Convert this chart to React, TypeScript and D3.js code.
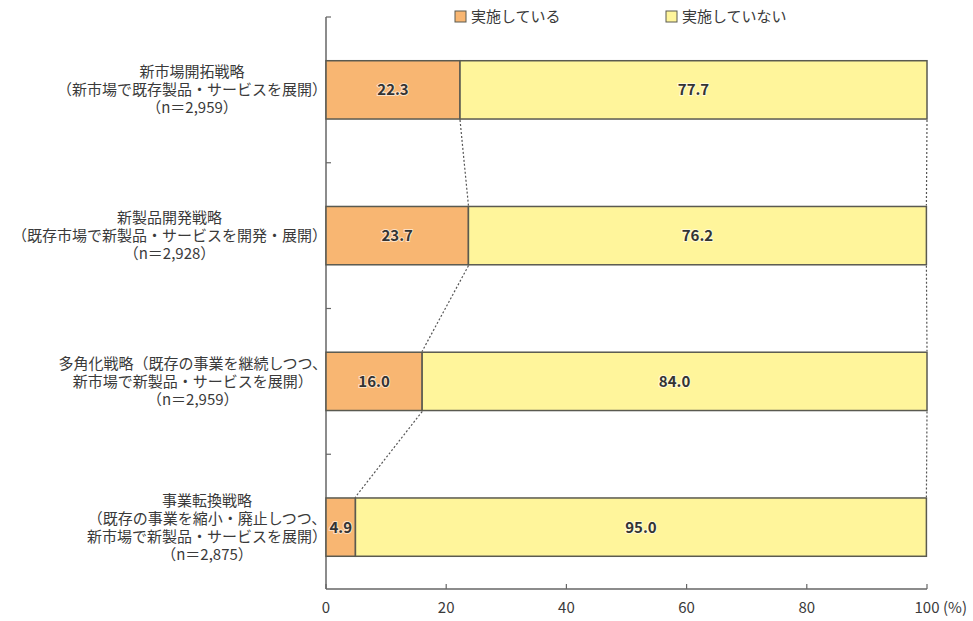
import React, { useEffect, useRef } from "react";
import * as d3 from "d3";

const categories = ["新市場開拓戦略", "新製品開発戦略", "多角化戦略", "事業転換戦略"];
const categoryLines = [
  ["新市場開拓戦略", "（新市場で既存製品・サービスを展開）", "（n＝2,959）"],
  ["新製品開発戦略", "（既存市場で新製品・サービスを開発・展開）", "（n＝2,928）"],
  ["多角化戦略（既存の事業を継続しつつ、", "新市場で新製品・サービスを展開）", "（n＝2,959）"],
  ["事業転換戦略", "（既存の事業を縮小・廃止しつつ、", "新市場で新製品・サービスを展開）", "（n＝2,875）"],
];
const implemented = [22.3, 23.7, 16.0, 4.9];
const notImplemented = [77.7, 76.2, 84.0, 95.0];
const seriesNames = ["実施している", "実施していない"];
const seriesColors = ["#F8B672", "#FFF59B"];
const xTicks = [0, 20, 40, 60, 80, 100];

const W = 973;
const H = 621;
const FONT = "'Noto Sans CJK JP', 'Noto Sans', sans-serif";

export default function App() {
  const ref = useRef<SVGSVGElement>(null);

  useEffect(() => {
    const svg = d3.select(ref.current);
    svg.selectAll("*").remove();

    const x = d3.scaleLinear().domain([0, 100]).range([326, 927]);
    const y = d3
      .scaleBand<string>()
      .domain(categories)
      .range([17, 600])
      .paddingInner(0.6)
      .paddingOuter(0.3);
    const axisBottomY = 589;
    const textColor = "#3a3a3a";

    // left axis line
    svg
      .append("line")
      .attr("x1", x(0))
      .attr("x2", x(0))
      .attr("y1", 17)
      .attr("y2", axisBottomY)
      .attr("stroke", "#666")
      .attr("stroke-width", 1.5);
    // top tick
    svg
      .append("line")
      .attr("x1", x(0))
      .attr("x2", x(0) + 5)
      .attr("y1", 17)
      .attr("y2", 17)
      .attr("stroke", "#666")
      .attr("stroke-width", 1.2);
    // band boundary ticks
    const step = y.step();
    categories.slice(0, -1).forEach((c) => {
      const yb = (y(c) as number) + y.bandwidth() + (step - y.bandwidth()) / 2;
      svg
        .append("line")
        .attr("x1", x(0))
        .attr("x2", x(0) + 5)
        .attr("y1", yb)
        .attr("y2", yb)
        .attr("stroke", "#666")
        .attr("stroke-width", 1.2);
    });

    // bottom axis
    svg
      .append("line")
      .attr("x1", x(0))
      .attr("x2", x(100))
      .attr("y1", axisBottomY)
      .attr("y2", axisBottomY)
      .attr("stroke", "#666")
      .attr("stroke-width", 1.5);
    xTicks.forEach((t) => {
      svg
        .append("line")
        .attr("x1", x(t))
        .attr("x2", x(t))
        .attr("y1", axisBottomY)
        .attr("y2", axisBottomY - 5)
        .attr("stroke", "#666")
        .attr("stroke-width", 1.2);
      svg
        .append("text")
        .attr("x", x(t))
        .attr("y", axisBottomY + 24)
        .attr("text-anchor", "middle")
        .attr("font-family", FONT)
        .attr("font-size", 15)
        .attr("fill", textColor)
        .text(String(t));
    });
    svg
      .append("text")
      .attr("x", x(100) + 16)
      .attr("y", axisBottomY + 24)
      .attr("font-family", FONT)
      .attr("font-size", 15)
      .attr("fill", textColor)
      .text("(%)");

    // connectors
    const bh = y.bandwidth();
    for (let i = 0; i < categories.length - 1; i++) {
      const y0 = (y(categories[i]) as number) + bh;
      const y1 = y(categories[i + 1]) as number;
      [
        [implemented[i], implemented[i + 1]],
        [implemented[i] + notImplemented[i], implemented[i + 1] + notImplemented[i + 1]],
      ].forEach(([a, b]) => {
        svg
          .append("line")
          .attr("x1", x(a))
          .attr("x2", x(b))
          .attr("y1", y0 + 1)
          .attr("y2", y1 - 1)
          .attr("stroke", "#555")
          .attr("stroke-width", 1.2)
          .attr("stroke-dasharray", "2,2");
      });
    }

    // bars
    categories.forEach((c, i) => {
      const yy = y(c) as number;
      const segs = [
        [0, implemented[i]],
        [implemented[i], implemented[i] + notImplemented[i]],
      ];
      segs.forEach(([a, b], s) => {
        svg
          .append("rect")
          .attr("x", x(a))
          .attr("y", yy)
          .attr("width", x(b) - x(a))
          .attr("height", bh)
          .attr("fill", seriesColors[s])
          .attr("stroke", "#5a5a50")
          .attr("stroke-width", 1.5);
        const v = s === 0 ? implemented[i] : notImplemented[i];
        svg
          .append("text")
          .attr("x", (x(a) + x(b)) / 2)
          .attr("y", yy + bh / 2)
          .attr("dy", "0.36em")
          .attr("text-anchor", "middle")
          .attr("font-family", FONT)
          .attr("font-size", 15)
          .attr("font-weight", "bold")
          .attr("fill", "#333")
          .attr("stroke", "#fff")
          .attr("stroke-width", 2)
          .attr("stroke-opacity", 0.6)
          .attr("paint-order", "stroke")
          .text(v.toFixed(1));
      });
    });

    // category labels
    const lineH = 18;
    categories.forEach((c, i) => {
      const lines = categoryLines[i];
      const cy = (y(c) as number) + bh / 2;
      const g = svg.append("g");
      lines.forEach((ln, k) => {
        g.append("text")
          .attr("x", 0)
          .attr("y", cy + (k - (lines.length - 1) / 2) * lineH)
          .attr("dy", "0.36em")
          .attr("text-anchor", "middle")
          .attr("font-family", FONT)
          .attr("font-size", 15)
          .attr("fill", textColor)
          .text(ln);
      });
      const bb = (g.node() as SVGGElement).getBBox();
      const right = 327;
      g.attr("transform", `translate(${right - (bb.x + bb.width)},0)`);
    });

    // legend
    const legendX = [455, 666];
    seriesNames.forEach((n, i) => {
      svg
        .append("rect")
        .attr("x", legendX[i])
        .attr("y", 11)
        .attr("width", 11)
        .attr("height", 11)
        .attr("fill", seriesColors[i])
        .attr("stroke", "#5a5a50")
        .attr("stroke-width", 1);
      svg
        .append("text")
        .attr("x", legendX[i] + 16)
        .attr("y", 17)
        .attr("dy", "0.36em")
        .attr("font-family", FONT)
        .attr("font-size", 15)
        .attr("fill", textColor)
        .text(n);
    });
  }, []);

  return (
    <svg
      ref={ref}
      width={W}
      height={H}
      style={{ position: "absolute", left: 0, top: 0, background: "#fff" }}
    />
  );
}
